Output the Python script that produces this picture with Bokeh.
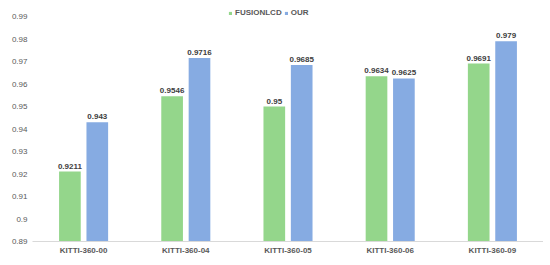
from bokeh.plotting import figure
from bokeh.models import ColumnDataSource, FactorRange, Range1d, FixedTicker, Legend, LegendItem, LabelSet
from bokeh.core.properties import value
from bokeh.transform import dodge
from bokeh.embed import file_html
from bokeh.resources import INLINE

categories = ["KITTI-360-00", "KITTI-360-04", "KITTI-360-05", "KITTI-360-06", "KITTI-360-09"]
fusionlcd = [0.9211, 0.9546, 0.95, 0.9634, 0.9691]
our = [0.943, 0.9716, 0.9685, 0.9625, 0.979]
fusion_labels = ["0.9211", "0.9546", "0.95", "0.9634", "0.9691"]
our_labels = ["0.943", "0.9716", "0.9685", "0.9625", "0.979"]
y_ticks = [0.89, 0.9, 0.91, 0.92, 0.93, 0.94, 0.95, 0.96, 0.97, 0.98, 0.99]
y_tick_labels = ["0.89", "0.9", "0.91", "0.92", "0.93", "0.94", "0.95", "0.96", "0.97", "0.98", "0.99"]

GREEN = "#94d68b"
BLUE = "#86abe2"
FONT = "Liberation Sans"

src = ColumnDataSource(dict(cat=categories, f=fusionlcd, o=our, fl=fusion_labels, ol=our_labels))

p = figure(x_range=FactorRange(*categories), y_range=Range1d(0.89, 0.99356),
           frame_width=511, frame_height=233, output_backend="svg", toolbar_location=None,
           min_border_left=32, min_border_right=0, min_border_top=8, min_border_bottom=16)
p.outline_line_color = None
p.grid.grid_line_color = None
p.background_fill_color = "white"

rf = p.vbar(x=dodge("cat", -0.134, range=p.x_range), top="f", bottom=0.89, width=0.212,
            source=src, fill_color=GREEN, line_color=None)
ro = p.vbar(x=dodge("cat", 0.134, range=p.x_range), top="o", bottom=0.89, width=0.212,
            source=src, fill_color=BLUE, line_color=None)

for xoff, col, lab in [(-0.134, "f", "fl"), (0.134, "o", "ol")]:
    ls = LabelSet(x=dodge("cat", xoff, range=p.x_range), y=col, text=lab, source=src,
                  text_align="center", text_baseline="bottom", y_offset=3,
                  text_font=value(FONT), text_font_size=value("8px"),
                  text_font_style=value("bold"), text_color=value("#404040"))
    p.add_layout(ls)

p.yaxis.ticker = FixedTicker(ticks=y_ticks)
p.yaxis.major_label_overrides = {t: l for t, l in zip(y_ticks, y_tick_labels)}
p.yaxis.axis_line_color = None
p.yaxis.major_tick_line_color = None
p.yaxis.minor_tick_line_color = None
p.yaxis.major_tick_out = 0
p.yaxis.major_tick_in = 0
p.yaxis.minor_tick_out = 0
p.yaxis.major_label_standoff = 5
p.yaxis.major_label_text_font = FONT
p.yaxis.major_label_text_font_size = "8px"
p.yaxis.major_label_text_color = "#595959"

p.xaxis.axis_line_color = "#d9d9d9"
p.xaxis.axis_line_width = 1
p.xaxis.major_tick_line_color = None
p.xaxis.minor_tick_line_color = None
p.xaxis.major_tick_out = 0
p.xaxis.major_tick_in = 0
p.xaxis.major_label_standoff = 4
p.xaxis.major_label_text_font = FONT
p.xaxis.major_label_text_font_size = "8px"
p.xaxis.major_label_text_font_style = "bold"
p.xaxis.major_label_text_color = "#595959"

legend = Legend(items=[LegendItem(label="FUSIONLCD", renderers=[rf]),
                       LegendItem(label="OUR", renderers=[ro])],
                location=(196, 224), orientation="horizontal",
                padding=0, margin=0, spacing=2, glyph_width=4, glyph_height=4,
                label_standoff=3, label_height=8,
                label_text_font=FONT, label_text_font_size="8px", label_text_font_style="bold",
                label_text_color="#595959", border_line_color=None, background_fill_alpha=0)
p.add_layout(legend, "center")

open("out.html", "w").write(file_html(p, INLINE))
